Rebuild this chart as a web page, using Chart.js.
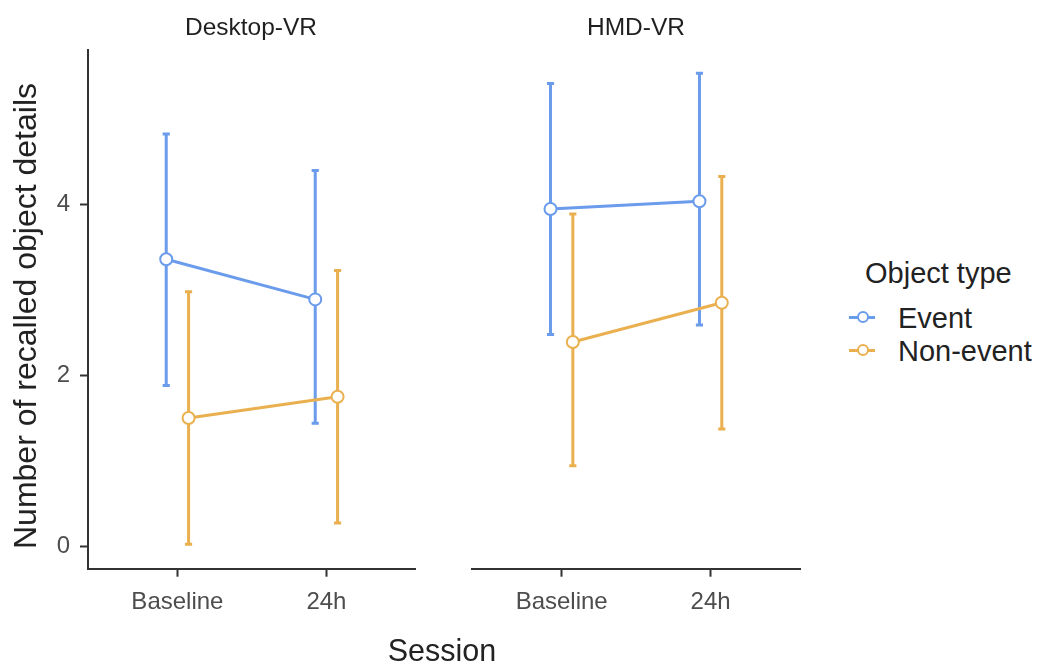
<!DOCTYPE html>
<html>
<head>
<meta charset="utf-8">
<script src="https://cdn.jsdelivr.net/npm/chart.js@4.4.0/dist/chart.umd.min.js"></script>
<style>
  body { margin: 0; background: #fff; }
  #wrap { position: relative; width: 1039px; height: 664px; overflow: hidden;
          font-family: "Liberation Sans", Arial, sans-serif; color: #222; }
  canvas { position: absolute; top: 0; }
  .txt { position: absolute; white-space: nowrap; line-height: 1; }
  .strip { width: 300px; text-align: center; font-size: 24.5px; top: 15.3px; color: #1f1f1f; }
  .key-line { position: absolute; width: 26px; height: 3px; left: 849px; }
  .key-dot { position: absolute; width: 12px; height: 12px; left: 856.5px; box-sizing: border-box;
             border-radius: 50%; border: 2px solid; background: #fff; }
</style>
</head>
<body>
<div id="wrap">
  <canvas id="desktop" width="430" height="664" style="left:0"></canvas>
  <canvas id="hmd" width="400" height="664" style="left:430px"></canvas>

  <div class="txt strip" style="left:101px">Desktop-VR</div>
  <div class="txt strip" style="left:486px">HMD-VR</div>

  <div class="txt" style="left:-275px; top:300px; width:600px; text-align:center; font-size:32px; transform:rotate(-90deg);">Number of recalled object details</div>
  <div class="txt" style="left:292px; top:635px; width:300px; text-align:center; font-size:30.5px;">Session</div>

  <div class="txt" style="left:865px; top:258.5px; font-size:29px;">Object type</div>
  <div class="key-line" style="top:315.8px; background:#6B9BEB"></div>
  <div class="key-dot" style="top:311.3px; border-color:#6B9BEB"></div>
  <div class="txt" style="left:898px; top:303.8px; font-size:29px;">Event</div>
  <div class="key-line" style="top:348.5px; background:#EAB04F"></div>
  <div class="key-dot" style="top:344px; border-color:#EAB04F"></div>
  <div class="txt" style="left:898px; top:337.2px; font-size:29px;">Non-event</div>
</div>

<script>
// sessions on the x axis, object types as series
const sessions = ['Baseline', '24h'];
const objectTypes = ['Event', 'Non-event'];
const yTicks = [0, 2, 4];

// Desktop-VR
const desktopEventMean = [3.36, 2.89];
const desktopEventLow = [1.88, 1.44];
const desktopEventHigh = [4.83, 4.40];
const desktopNonEventMean = [1.50, 1.75];
const desktopNonEventLow = [0.02, 0.27];
const desktopNonEventHigh = [2.98, 3.23];

// HMD-VR
const hmdEventMean = [3.95, 4.04];
const hmdEventLow = [2.48, 2.59];
const hmdEventHigh = [5.42, 5.54];
const hmdNonEventMean = [2.39, 2.85];
const hmdNonEventLow = [0.94, 1.37];
const hmdNonEventHigh = [3.89, 4.33];

const colors = ['#6B9BEB', '#EAB04F'];
const dodge = 0.075;
const capHalf = 0.024;

// draws the error bars under the lines, through the chart scales
const errorBars = {
    id: 'errorBars',
    beforeDatasetsDraw(chart) {
        const ctx = chart.ctx;
        const x = chart.scales.x, y = chart.scales.y;
        chart.data.datasets.forEach(ds => {
            ds.data.forEach((p, i) => {
                const px = x.getPixelForValue(p.x);
                const cap = x.getPixelForValue(p.x + capHalf) - px;
                const top = y.getPixelForValue(ds.high[i]);
                const bot = y.getPixelForValue(ds.low[i]);
                ctx.save();
                ctx.strokeStyle = ds.borderColor;
                ctx.lineWidth = 3;
                ctx.beginPath();
                ctx.moveTo(px, top); ctx.lineTo(px, bot);
                ctx.moveTo(px - cap, top); ctx.lineTo(px + cap, top);
                ctx.moveTo(px - cap, bot); ctx.lineTo(px + cap, bot);
                ctx.stroke();
                ctx.restore();
            });
        });
    }
};

function series(label, mean, low, high, shift, color) {
    return {
        label: label,
        data: mean.map((v, i) => ({x: i + 1 + shift, y: v})),
        low: low,
        high: high,
        borderColor: color,
        borderWidth: 3,
        pointRadius: 6,
        pointBorderWidth: 2,
        pointBorderColor: color,
        pointBackgroundColor: '#fff',
        tension: 0
    };
}

function axisGrid() {
    return {display: true, drawOnChartArea: false, drawTicks: true, tickLength: 8, tickWidth: 2, tickColor: '#333'};
}

function makeChart(id, datasets, showY, padding) {
    const tickFont = {family: '"Liberation Sans", Arial, sans-serif', size: 24};
    return new Chart(document.getElementById(id), {
        type: 'line',
        data: {datasets: datasets},
        plugins: [errorBars],
        options: {
            responsive: false,
            animation: false,
            layout: {padding: padding},
            plugins: {legend: {display: false}, tooltip: {enabled: false}},
            scales: {
                x: {
                    type: 'linear',
                    min: 0.4,
                    max: 2.6,
                    grid: axisGrid(),
                    border: {display: true, color: '#333', width: 2},
                    afterBuildTicks: s => { s.ticks = sessions.map((_, i) => ({value: i + 1})); },
                    afterFit: s => { s.height = 95.3; },
                    ticks: {
                        autoSkip: false,
                        maxRotation: 0,
                        padding: 11,
                        color: '#4D4D4D',
                        font: tickFont,
                        callback: v => sessions[v - 1]
                    }
                },
                y: {
                    display: showY,
                    min: -0.266,
                    max: 5.813,
                    grid: axisGrid(),
                    border: {display: true, color: '#333', width: 2},
                    afterBuildTicks: s => { s.ticks = yTicks.map(v => ({value: v})); },
                    afterFit: s => { s.width = showY ? 88 : 0; },
                    ticks: {padding: 10, color: '#4D4D4D', font: tickFont}
                }
            }
        }
    });
}

makeChart('desktop', [
    series(objectTypes[0], desktopEventMean, desktopEventLow, desktopEventHigh, -dodge, colors[0]),
    series(objectTypes[1], desktopNonEventMean, desktopNonEventLow, desktopNonEventHigh, dodge, colors[1])
], true, {top: 50, left: 0, right: 14.2, bottom: 0});

makeChart('hmd', [
    series(objectTypes[0], hmdEventMean, hmdEventLow, hmdEventHigh, -dodge, colors[0]),
    series(objectTypes[1], hmdNonEventMean, hmdNonEventLow, hmdNonEventHigh, dodge, colors[1])
], false, {top: 50, left: 42.3, right: 30, bottom: 0});
</script>
</body>
</html>
